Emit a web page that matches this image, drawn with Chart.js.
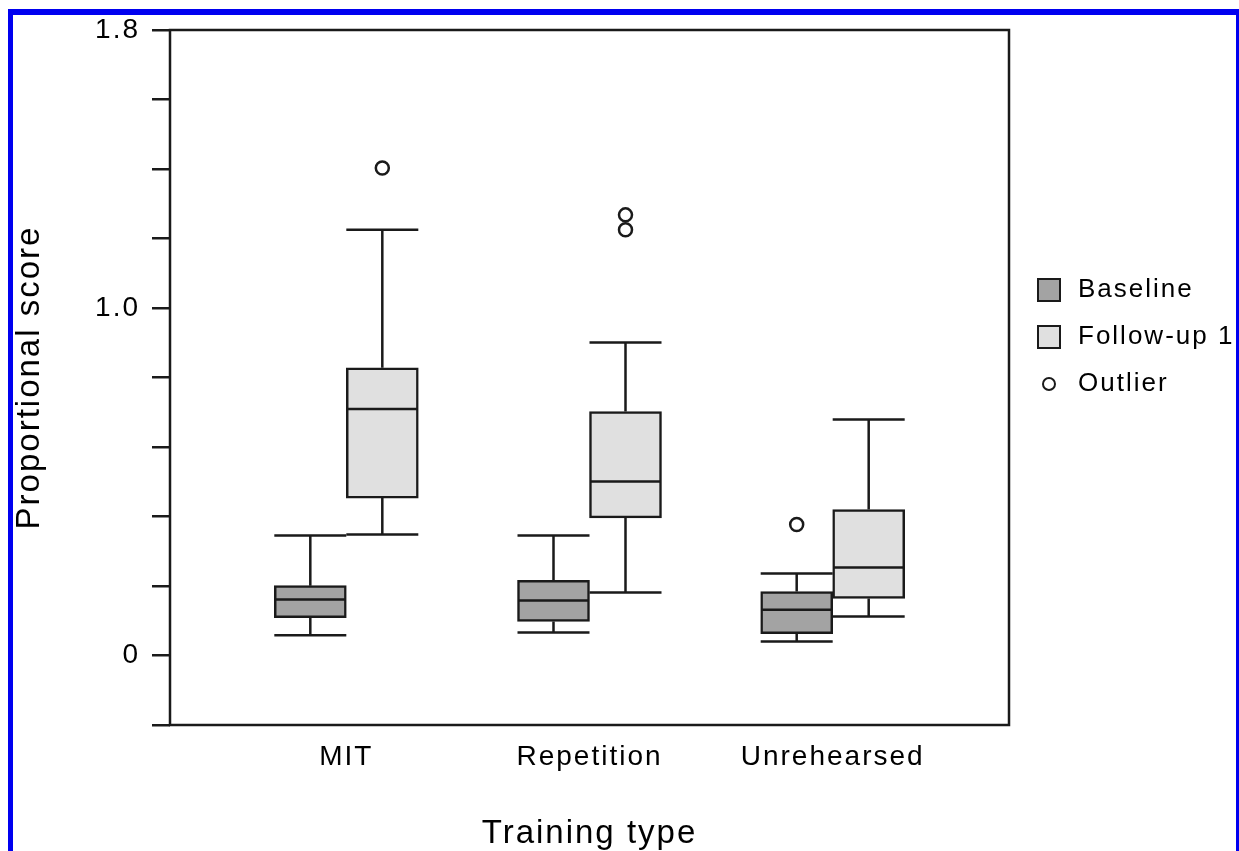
<!DOCTYPE html>
<html>
<head>
<meta charset="utf-8">
<script src="https://cdn.jsdelivr.net/npm/chart.js@4.4.0/dist/chart.umd.min.js"></script>
<style>
  html, body { margin: 0; padding: 0; background: #fff; }
  #wrap { position: relative; width: 1239px; height: 851px; overflow: hidden; }
  #boxChart { position: absolute; left: 0; top: 0; }
  #frame { position: absolute; left: 8px; top: 9px; right: 0; bottom: -20px;
           border-left: 5px solid #0000f0; border-top: 6px solid #0000f0; border-right: 3px solid #0000f0; }
</style>
</head>
<body>
<div id="wrap">
  <canvas id="boxChart" width="1239" height="851"></canvas>
  <div id="frame"></div>
</div>
<script>
const categories = ['MIT', 'Repetition', 'Unrehearsed'];
const seriesNames = ['Baseline', 'Follow-up 1'];

// Baseline boxes
const baselineLow = [0.058, 0.066, 0.040];
const baselineQ1 = [0.109, 0.098, 0.063];
const baselineMedian = [0.161, 0.158, 0.132];
const baselineQ3 = [0.201, 0.216, 0.184];
const baselineHigh = [0.345, 0.345, 0.236];
const baselineOutliers = [[], [], [0.377]];

// Follow-up 1 boxes
const followLow = [0.348, 0.181, 0.112];
const followQ1 = [0.453, 0.396, 0.164];
const followMedian = [0.709, 0.501, 0.253];
const followQ3 = [0.828, 0.702, 0.420];
const followHigh = [1.225, 0.901, 0.679];
const followOutliers = [[1.403], [1.268, 1.225], []];

const yLabelTicks = [0, 1.0, 1.8];

const baseFill = '#a3a3a3';
const followFill = '#e0e0e0';
const ink = '#1a1a1a';
const fontFamily = '"Liberation Sans", Arial, Helvetica, sans-serif';

// whiskers, medians and outliers for each box, placed on the bar elements
const boxParts = [
    { low: baselineLow, median: baselineMedian, high: baselineHigh, outliers: baselineOutliers },
    { low: followLow, median: followMedian, high: followHigh, outliers: followOutliers }
];

const spacing = {
    id: 'spacing',
    beforeUpdate(chart) { chart.ctx.letterSpacing = '2px'; },
    beforeDraw(chart) { chart.ctx.letterSpacing = '2px'; }
};

const boxPlot = {
    id: 'boxPlot',
    beforeDatasetsDraw(chart) {
        const { ctx, chartArea } = chart;
        ctx.save();
        ctx.strokeStyle = ink;
        ctx.lineWidth = 2.5;
        ctx.strokeRect(chartArea.left, chartArea.top, chartArea.right - chartArea.left, chartArea.bottom - chartArea.top);
        ctx.restore();
    },
    afterDatasetsDraw(chart) {
        const { ctx } = chart;
        const y = chart.scales.y;
        ctx.save();
        ctx.strokeStyle = ink;
        ctx.lineWidth = 2.5;
        boxParts.forEach((part, d) => {
            const meta = chart.getDatasetMeta(d);
            meta.data.forEach((bar, i) => {
                const half = bar.width / 2;
                const x = bar.x;
                const top = Math.min(bar.y, bar.base);
                const bottom = Math.max(bar.y, bar.base);
                const yLow = y.getPixelForValue(part.low[i]);
                const yHigh = y.getPixelForValue(part.high[i]);
                const yMed = y.getPixelForValue(part.median[i]);
                ctx.beginPath();
                ctx.moveTo(x, bottom); ctx.lineTo(x, yLow);
                ctx.moveTo(x - half, yLow); ctx.lineTo(x + half, yLow);
                ctx.moveTo(x, top); ctx.lineTo(x, yHigh);
                ctx.moveTo(x - half, yHigh); ctx.lineTo(x + half, yHigh);
                ctx.moveTo(x - half + 1, yMed); ctx.lineTo(x + half - 1, yMed);
                ctx.stroke();
                part.outliers[i].forEach(v => {
                    ctx.beginPath();
                    ctx.arc(x, y.getPixelForValue(v), 6.5, 0, Math.PI * 2);
                    ctx.fillStyle = '#fff';
                    ctx.fill();
                    ctx.stroke();
                });
            });
        });
        ctx.restore();
    },
    afterDraw(chart) {
        // legend on the right
        const { ctx, chartArea } = chart;
        const x0 = chartArea.right + 29;
        const rows = [
            { text: seriesNames[0], fill: baseFill },
            { text: seriesNames[1], fill: followFill },
            { text: 'Outlier', fill: null }
        ];
        ctx.save();
        ctx.font = '26px ' + fontFamily;
        ctx.letterSpacing = '2px';
        ctx.textBaseline = 'middle';
        ctx.textAlign = 'left';
        rows.forEach((r, k) => {
            const cy = 290 + k * 47;
            ctx.strokeStyle = ink;
            ctx.lineWidth = 2;
            if (r.fill) {
                ctx.fillStyle = r.fill;
                ctx.fillRect(x0, cy - 11, 22, 22);
                ctx.strokeRect(x0, cy - 11, 22, 22);
            } else {
                ctx.beginPath();
                ctx.arc(x0 + 11, cy, 6, 0, Math.PI * 2);
                ctx.fillStyle = '#fff';
                ctx.fill();
                ctx.stroke();
            }
            ctx.fillStyle = '#000';
            ctx.fillText(r.text, x0 + 40, cy);
        });
        ctx.restore();
    }
};

function boxData(q1, q3) {
    return categories.map((c, i) => ({ x: i, y: [q1[i], q3[i]] }));
}

const ctx = document.getElementById('boxChart').getContext('2d');
const boxChart = new Chart(ctx, {
    type: 'bar',
    data: {
        datasets: [{
            label: seriesNames[0],
            data: boxData(baselineQ1, baselineQ3),
            backgroundColor: baseFill,
            borderColor: ink,
            borderWidth: 2.5,
            borderSkipped: false,
            barThickness: 72,
        }, {
            label: seriesNames[1],
            data: boxData(followQ1, followQ3),
            backgroundColor: followFill,
            borderColor: ink,
            borderWidth: 2.5,
            borderSkipped: false,
            barThickness: 72,
        }],
    },
    options: {
        responsive: false,
        animation: false,
        devicePixelRatio: 1,
        layout: { padding: { left: 0, right: 230, top: 30, bottom: 0 } },
        plugins: {
            legend: { display: false },
            tooltip: { enabled: false },
        },
        scales: {
            x: {
                type: 'linear',
                offset: false,
                min: -0.725,
                max: 2.725,
                afterBuildTicks: (scale) => {
                    scale.ticks = categories.map((c, i) => ({ value: i }));
                },
                afterFit: (scale) => { scale.height = 126; },
                grid: { display: false },
                border: { display: false },
                ticks: {
                    padding: 7,
                    color: '#000',
                    font: { family: fontFamily, size: 28 },
                    callback: (v) => categories[v] || '',
                },
                title: {
                    display: true,
                    text: 'Training type',
                    color: '#000',
                    font: { family: fontFamily, size: 33 },
                    padding: { top: 0, bottom: -3 },
                },
            },
            y: {
                min: -0.2,
                max: 1.8,
                afterFit: (scale) => { scale.width = 170; },
                grid: {
                    drawOnChartArea: false,
                    drawTicks: true,
                    tickLength: 18,
                    color: ink,
                    lineWidth: 2.5,
                },
                border: { display: false },
                ticks: {
                    stepSize: 0.2,
                    padding: 12,
                    color: '#000',
                    font: { family: fontFamily, size: 28 },
                    callback: (v) => {
                        const hit = yLabelTicks.find(t => Math.abs(t - v) < 1e-6);
                        if (hit === undefined) return '';
                        return hit === 0 ? '0' : hit.toFixed(1);
                    },
                },
                title: {
                    display: true,
                    text: 'Proportional score',
                    color: '#000',
                    font: { family: fontFamily, size: 33 },
                    padding: { top: 10, bottom: 0 },
                },
            },
        },
    },
    plugins: [spacing, boxPlot],
});
</script>
</body>
</html>
